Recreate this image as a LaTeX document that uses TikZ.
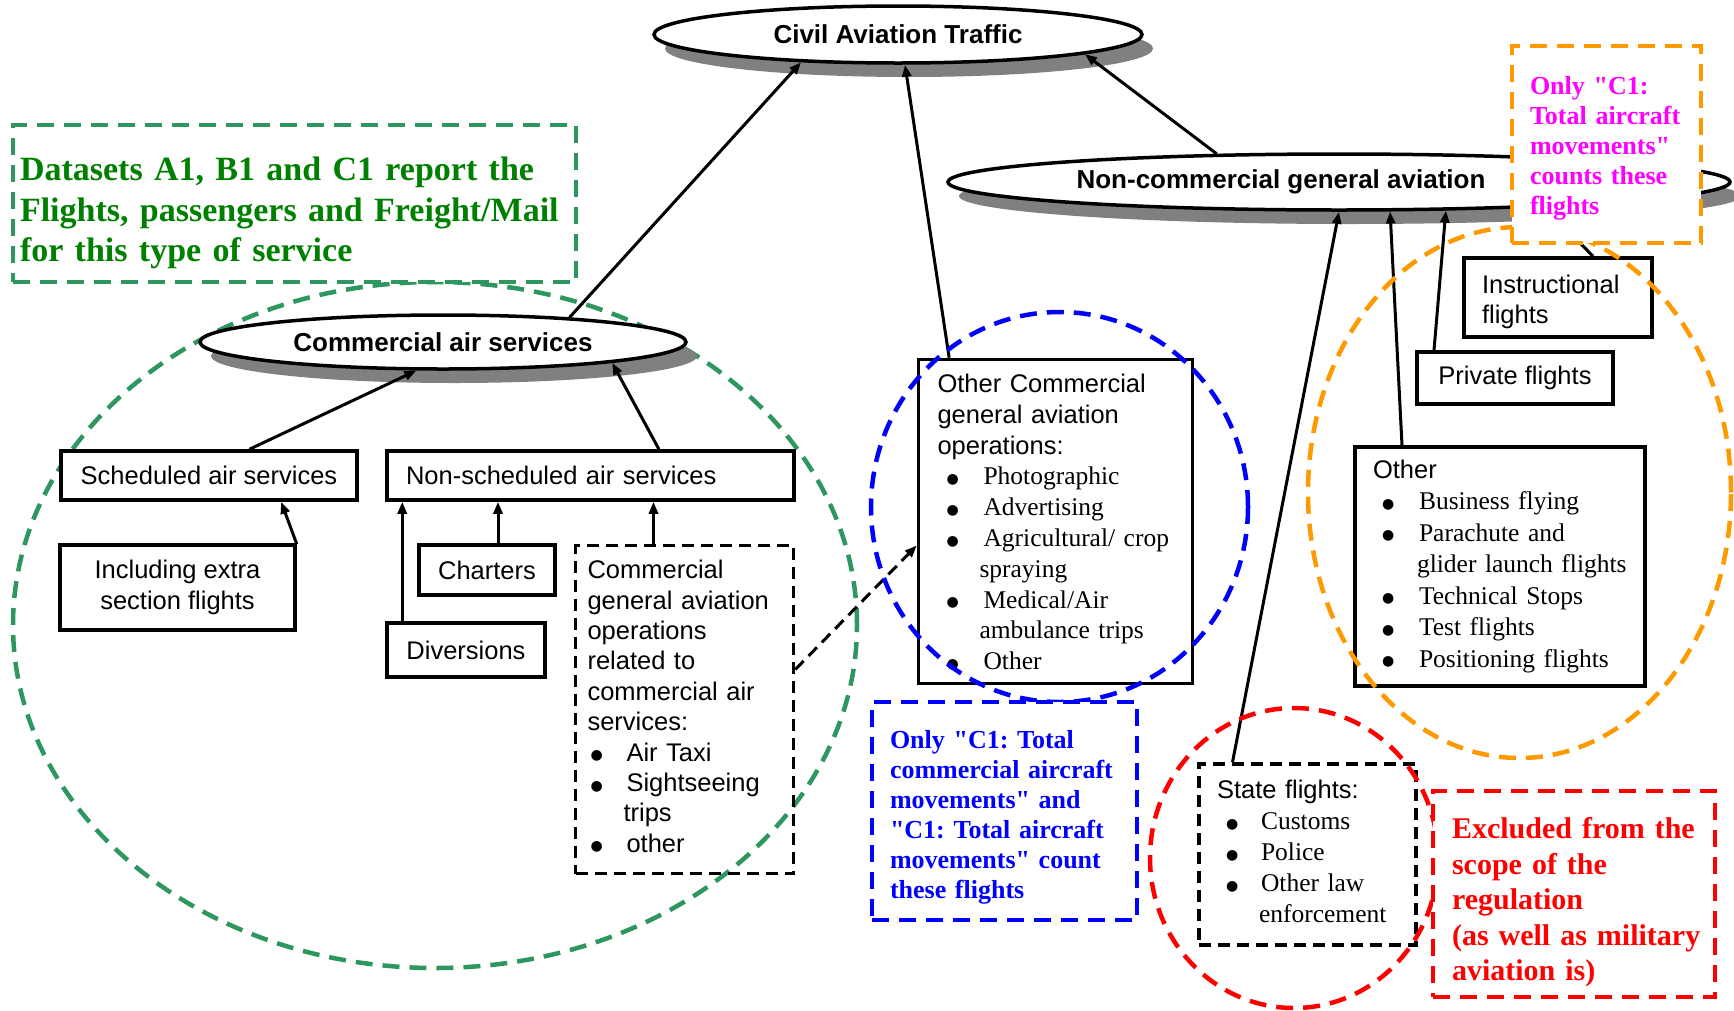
\documentclass[tikz,border=0pt]{standalone}
\usepackage{fontspec}
\setmainfont{Liberation Serif}[Ligatures=TeXOff]
\setsansfont{Liberation Sans}
\newfontfamily\dvs{DejaVu Sans}
\usetikzlibrary{shapes.geometric,arrows.meta,shadows}
\definecolor{tgreen}{RGB}{0,128,0}
\definecolor{cgreen}{RGB}{46,150,95}
\definecolor{corange}{RGB}{255,153,0}
\definecolor{cblue}{RGB}{0,0,255}
\definecolor{cred}{RGB}{255,0,0}
\definecolor{cmag}{RGB}{255,0,255}
\newcommand\bl[2]{\hspace*{#1pt}\makebox[#2pt][l]{\raisebox{1.5pt}{\dvs\fontsize{14}{14}\selectfont ●}}}
\newcommand\ct[1]{\hspace*{#1pt}}
\newcommand\topsp[1]{\rule{0pt}{#1pt}}
\frenchspacing
\begin{document}
\begin{tikzpicture}[x=1pt,y=-1pt,
 box/.style={draw, rectangle, line width=3.5pt, fill=white, inner sep=0pt, font=\sffamily\fontsize{25.5}{30.8}\selectfont},
 dbox/.style={box, dash pattern=on 12pt off 7pt},
 ell/.style={draw, ellipse, line width=3.5pt, fill=white, inner sep=0pt, font=\sffamily\bfseries\fontsize{26}{30}\selectfont,
   drop shadow={shadow xshift=11pt, shadow yshift=-14pt, fill=black!50, opacity=1}},
 arr/.style={line width=3pt, -{Triangle[length=12pt,width=9pt]}},
 cdash/.style={line width=4.5pt, dash pattern=on 17pt off 10pt},
 note/.style={draw, rectangle, fill=white, inner sep=0pt, line width=4.5pt, dash pattern=on 17pt off 10pt, align=left,
   font=\rmfamily\bfseries\fontsize{26}{30}\selectfont}]
\useasboundingbox (0,0) rectangle (1734,1010);
\fill[white] (0,0) rectangle (1734,1010);

% green scope circle
\draw[cdash, cgreen] (435,625) ellipse [x radius=422pt, y radius=343pt];

% ellipses
\node[ell, minimum width=488pt, minimum height=57pt] (civ) at (898,34.5) {Civil Aviation Traffic};
\node[ell, minimum width=486pt, minimum height=54pt] (cas) at (443,342) {Commercial air services};
\node[ell, minimum width=782pt, minimum height=56pt] (nga) at (1339,182) {};
\node[font=\sffamily\bfseries\fontsize{26}{30}\selectfont, inner sep=0pt] (ngat) at (1281,182) {Non-commercial general aviation};

% green note
\node[note, draw=cgreen, text=tgreen, font=\rmfamily\bfseries\fontsize{34}{40.5}\selectfont,
  minimum width=563pt, minimum height=157pt, text width=549pt, inner xsep=7pt] (grn) at (294.5,203.5)
  {\begin{tabular}{@{}l@{}}\topsp{48}Datasets A1, B1 and C1 report the\\Flights, passengers and Freight/Mail\\for this type of service\end{tabular}};

% boxes
\node[box, minimum width=296pt, minimum height=49pt] (sch) at (209,475.5) {Scheduled air services};
\node[box, minimum width=407pt, minimum height=49pt, text width=369pt, inner xsep=19pt, align=left] (nsch) at (590.5,475.5) {Non-scheduled air services};
\node[box, minimum width=235pt, minimum height=85pt, align=center] (inc) at (177.5,587.5) {Including extra\\section flights};
\node[box, minimum width=136pt, minimum height=50pt] (cha) at (487,570) {Charters};
\node[box, minimum width=158pt, minimum height=54pt] (div) at (466,650) {Diversions};
\node[dbox, fill=none, minimum width=218pt, minimum height=328pt, text width=194pt, inner xsep=12pt, align=left,
  font=\sffamily\fontsize{25.5}{30.4}\selectfont] (cga) at (684.5,709.5)
  {\begin{tabular}{@{}l@{}}Commercial\\general aviation\\operations\\related to\\commercial air\\services:\\\bl{3}{36}Air Taxi\\\bl{3}{36}Sightseeing\\\ct{36}trips\\\bl{3}{36}other\end{tabular}};
\node[box, minimum width=274pt, minimum height=324pt, text width=236pt, inner xsep=19pt, align=left] (ocb) at (1055.5,521.5)
  {\begin{tabular}{@{}l@{}}\topsp{28.6}Other Commercial\\general aviation\\operations:\\\rmfamily\bl{9}{37}Photographic\\\rmfamily\bl{9}{37}Advertising\\\rmfamily\bl{9}{37}Agricultural/ crop\\\rmfamily\ct{42}spraying\\\rmfamily\bl{9}{37}Medical/Air\\\rmfamily\ct{42}ambulance trips\\\rmfamily\bl{9}{37}Other\end{tabular}};
\node[box, minimum width=290pt, minimum height=239pt, text width=254pt, inner xsep=18pt, align=left,
  font=\sffamily\fontsize{25.5}{31.5}\selectfont] (oth) at (1500,566.5)
  {\begin{tabular}{@{}l@{}}Other\\\rmfamily\bl{9}{37}Business flying\\\rmfamily\bl{9}{37}Parachute and\\\rmfamily\ct{44}glider launch flights\\\rmfamily\bl{9}{37}Technical Stops\\\rmfamily\bl{9}{37}Test flights\\\rmfamily\bl{9}{37}Positioning flights\end{tabular}};
\node[dbox, minimum width=217pt, minimum height=181pt, text width=181pt, inner xsep=18pt, align=left,
  font=\sffamily\fontsize{25.5}{31}\selectfont] (sta) at (1307.5,854.5)
  {\begin{tabular}{@{}l@{}}State flights:\\\rmfamily\bl{9}{35}Customs\\\rmfamily\bl{9}{35}Police\\\rmfamily\bl{9}{35}Other law\\\rmfamily\ct{42}enforcement\end{tabular}};
\node[box, minimum width=196pt, minimum height=52pt] (prv) at (1515,378) {Private flights};
\node[box, minimum width=188pt, minimum height=79pt, text width=152pt, inner xsep=18pt, align=left,
  font=\sffamily\fontsize{25.5}{30}\selectfont] (ins) at (1558,297.5)
  {\begin{tabular}{@{}l@{}}\topsp{30}Instructional\\flights\end{tabular}};

% connectors
\coordinate (chat) at ([xshift=11pt]cha.north);
\coordinate (cgat) at ([xshift=-31pt]cga.north);
\coordinate (divt) at ([xshift=17pt]div.north west);
\draw[arr] (cas.11.8) -- (civ.196.2);
\draw[arr] (ocb.123.6) -- (civ.283.8);
\draw[arr] (nga.167.7) -- (civ.354.6);
\draw[arr] (sch.33.5) -- (cas.227.1);
\draw[arr] (nsch.21.4) -- (cas.353.2);
\draw[arr] (inc.20.5) -- (sch.340.6);
\draw[arr] (divt) -- (divt |- nsch.south);
\draw[arr] (chat) -- (chat |- nsch.south);
\draw[arr] (cgat) -- (cgat |- nsch.south);
\draw[arr, dash pattern=on 12pt off 7pt] ([yshift=40pt]cga.east) -- ([yshift=-24pt]ocb.west);
\draw[arr] ([xshift=-75pt]sta.north) -- (nga.270);
\draw[arr] ([xshift=-98pt]oth.north) -- (nga.330.4);
\draw[arr] ([xshift=-81pt]prv.north) -- (nga.345.6);
\draw[arr] ([xshift=35pt]ins.north) -- (nga.353.6);

% scope circles
\draw[cdash, cblue] (1059.5,507) ellipse [x radius=188.5pt, y radius=195pt];
\draw[cdash, corange] (1519.5,492.5) ellipse [x radius=211.5pt, y radius=265.5pt];
\draw[cdash, cred] (1294,858) ellipse [x radius=144pt, y radius=150pt];

% notes
\node[note, draw=cblue, text=cblue, minimum width=265pt, minimum height=218pt, text width=229pt, inner xsep=18pt] (blu) at (1004.5,811)
  {\begin{tabular}{@{}l@{}}\topsp{34}Only "C1: Total\\commercial aircraft\\movements" and\\"C1: Total aircraft\\movements" count\\these flights\end{tabular}};
\node[note, draw=cred, text=cred, font=\rmfamily\bfseries\fontsize{30}{35.5}\selectfont, minimum width=282pt, minimum height=206pt, text width=244pt, inner xsep=19pt] (rex) at (1574,894)
  {\begin{tabular}{@{}l@{}}\topsp{42}Excluded from the\\scope of the\\regulation\\(as well as military\\aviation is)\end{tabular}};
\node[note, draw=corange, text=cmag, minimum width=189pt, minimum height=197pt, text width=153pt, inner xsep=18pt] (mag) at (1606.5,144.5)
  {\begin{tabular}{@{}l@{}}\topsp{29}Only "C1:\\Total aircraft\\movements"\\counts these\\flights\end{tabular}};
\end{tikzpicture}
\end{document}
